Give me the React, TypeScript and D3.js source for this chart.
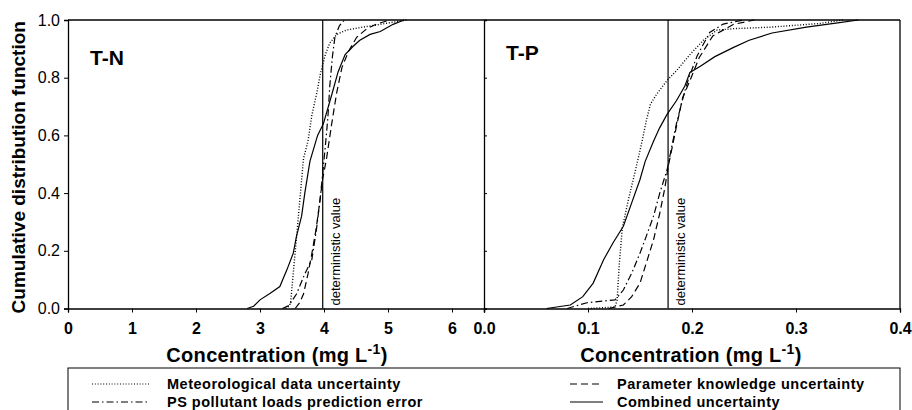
import React, { useEffect, useRef } from 'react';
import * as d3 from 'd3';

const width = 912,
height = 410;

const top = 20, bottom = 308.5, left = 68, mid = 484, right = 900;

const font = 'Arial, "Liberation Sans", Helvetica, sans-serif';

// T-N panel: [concentration, cumulative probability]
const tnMeteo = [[3.40,0],[3.46,0.01],[3.48,0.024],[3.58,0.27],[3.68,0.52],[3.75,0.58],[3.81,0.67],[3.89,0.75],[3.94,0.81],[4.02,0.88],[4.09,0.92],[4.20,0.95],[4.35,0.965],[4.60,0.975],[4.88,0.985],[5.15,0.995],[5.30,1.0]];
const tnLoads = [[3.35,0],[3.45,0.01],[3.57,0.05],[3.70,0.12],[3.81,0.17],[3.88,0.27],[3.94,0.38],[3.98,0.47],[4.02,0.56],[4.06,0.66],[4.09,0.77],[4.13,0.87],[4.17,0.94],[4.24,0.98],[4.32,1.0]];
const tnParam = [[3.55,0],[3.62,0.02],[3.68,0.05],[3.75,0.12],[3.81,0.19],[3.88,0.28],[3.94,0.38],[3.98,0.45],[4.04,0.52],[4.12,0.64],[4.20,0.75],[4.28,0.835],[4.38,0.89],[4.51,0.94],[4.67,0.97],[4.82,0.986],[5.03,1.0]];
const tnCombined = [[2.80,0],[2.90,0.008],[3.00,0.03],[3.16,0.053],[3.31,0.076],[3.42,0.134],[3.52,0.192],[3.57,0.25],[3.65,0.32],[3.70,0.40],[3.78,0.51],[3.90,0.60],[3.99,0.64],[4.12,0.74],[4.22,0.82],[4.33,0.88],[4.46,0.91],[4.56,0.93],[4.72,0.95],[4.88,0.96],[5.08,0.985],[5.25,1.0]];

// T-P panel
const tpMeteo = [[0.10,0],[0.126,0.005],[0.128,0.03],[0.130,0.15],[0.133,0.28],[0.139,0.38],[0.147,0.50],[0.152,0.58],[0.156,0.65],[0.160,0.708],[0.166,0.743],[0.176,0.79],[0.185,0.824],[0.198,0.88],[0.211,0.93],[0.224,0.965],[0.24,0.97],[0.275,0.975],[0.323,0.988],[0.345,1.0]];
const tpLoads = [[0.08,0],[0.099,0.02],[0.126,0.03],[0.134,0.064],[0.142,0.122],[0.150,0.192],[0.156,0.25],[0.163,0.32],[0.169,0.40],[0.176,0.48],[0.185,0.64],[0.192,0.74],[0.197,0.80],[0.205,0.876],[0.217,0.957],[0.23,0.986],[0.25,1.0]];
const tpParam = [[0.12,0],[0.134,0.012],[0.142,0.041],[0.150,0.088],[0.156,0.157],[0.163,0.238],[0.169,0.33],[0.174,0.42],[0.177,0.49],[0.185,0.63],[0.191,0.73],[0.198,0.79],[0.207,0.87],[0.22,0.945],[0.24,0.985],[0.26,1.0]];
const tpCombined = [[0.06,0],[0.083,0.012],[0.095,0.041],[0.105,0.088],[0.115,0.169],[0.124,0.227],[0.134,0.285],[0.142,0.366],[0.150,0.447],[0.155,0.51],[0.163,0.58],[0.169,0.627],[0.176,0.673],[0.185,0.72],[0.193,0.77],[0.198,0.818],[0.208,0.84],[0.222,0.873],[0.24,0.905],[0.255,0.93],[0.277,0.955],[0.31,0.975],[0.34,0.99],[0.36,1.0]];

const tnTicks = [0, 1, 2, 3, 4, 5, 6];
const tpTicks = [0, 0.1, 0.2, 0.3, 0.4];
const yTicks = [0, 0.2, 0.4, 0.6, 0.8, 1.0];
const tnDeterministic = 3.98;
const tpDeterministic = 0.177;

const legendNames = ['Meteorological data uncertainty', 'PS pollutant loads prediction error', 'Parameter knowledge uncertainty', 'Combined uncertainty'];
const dashes = ['1,1.8', '7,3,1.5,3', '7,4', null];

function drawChart(node) {
    const svg = d3.select(node);
    svg.selectAll('*').remove();

    const y = d3.scaleLinear().domain([0, 1]).range([bottom, top]);
    const xN = d3.scaleLinear().domain([0, 6.5]).range([left, mid]);
    const xP = d3.scaleLinear().domain([0, 0.4]).range([mid, right]);

    const panels = [
        { x: xN, ticks: tnTicks, fmt: d3.format('d'), series: [tnMeteo, tnLoads, tnParam, tnCombined], det: tnDeterministic, label: 'T-N', ly: 65, tx: 277 },
        { x: xP, ticks: tpTicks, fmt: d3.format('.1f'), series: [tpMeteo, tpLoads, tpParam, tpCombined], det: tpDeterministic, label: 'T-P', ly: 60, tx: 691 },
    ];

    panels.forEach((p) => {
        const g = svg.append('g');
        const line = d3.line().x(d => p.x(d[0])).y(d => y(d[1]));

        p.series.forEach((s, k) => {
            g.append('path')
                .attr('d', line(s))
                .attr('fill', 'none')
                .attr('stroke', '#000')
                .attr('stroke-width', k === 0 ? 1.4 : 1.2)
                .attr('stroke-dasharray', dashes[k]);
        });

        // deterministic value
        const dx = p.x(p.det);
        g.append('line')
            .attr('x1', dx).attr('x2', dx)
            .attr('y1', y(0)).attr('y2', y(1))
            .attr('stroke', '#000').attr('stroke-width', 1.2);
        g.append('text')
            .attr('transform', `translate(${dx + 17},${y(0) - 3}) rotate(-90)`)
            .attr('font-family', font)
            .attr('font-size', 13)
            .text('deterministic value');

        g.append('text')
            .attr('x', p.x.range()[0] + 22)
            .attr('y', p.ly)
            .attr('font-family', font)
            .attr('font-size', 21)
            .attr('font-weight', 'bold')
            .text(p.label);

        // x axis
        const xa = g.append('g').attr('transform', `translate(0,${bottom})`)
            .call(d3.axisBottom(p.x).tickValues(p.ticks).tickFormat(p.fmt).tickSize(4).tickPadding(10));
        xa.select('.domain').attr('stroke-width', 1.3);
        xa.selectAll('.tick text')
            .style('font-family', font)
            .style('font-size', '16px')
            .style('font-weight', '700');

        const title = g.append('text')
            .attr('x', p.tx)
            .attr('y', 362)
            .attr('text-anchor', 'middle')
            .attr('font-family', font)
            .attr('font-size', 20)
            .attr('font-weight', 'bold')
            .style('letter-spacing', '0.3px');
        title.append('tspan').text('Concentration (mg L');
        title.append('tspan').attr('dy', -8).attr('font-size', 14).text('-1');
        title.append('tspan').attr('dy', 8).text(')');
    });

    // y axes
    const ya = svg.append('g').attr('transform', `translate(${left},0)`)
        .call(d3.axisLeft(y).tickValues(yTicks).tickFormat(d3.format('.1f')).tickSize(4).tickPadding(4));
    ya.select('.domain').attr('stroke-width', 1.3);
    ya.selectAll('.tick text')
        .style('font-family', font)
        .style('font-size', '16px');

    const ym = svg.append('g').attr('transform', `translate(${mid},0)`)
        .call(d3.axisRight(y).tickValues(yTicks).tickFormat('').tickSize(3));
    ym.select('.domain').attr('stroke-width', 1.3);

    // frame top and right
    svg.append('line').attr('x1', left).attr('x2', right).attr('y1', top).attr('y2', top)
        .attr('stroke', '#000').attr('stroke-width', 1.3);
    svg.append('line').attr('x1', right).attr('x2', right).attr('y1', top).attr('y2', bottom)
        .attr('stroke', '#000').attr('stroke-width', 1.3);

    svg.append('text')
        .attr('transform', `translate(25,${(top + bottom) / 2 + 3}) rotate(-90)`)
        .attr('text-anchor', 'middle')
        .attr('font-family', font)
        .attr('font-size', 19)
        .attr('font-weight', 'bold')
        .text('Cumulative distribution function');

    // legend
    svg.append('rect')
        .attr('x', left).attr('y', 368)
        .attr('width', right - left).attr('height', 60)
        .attr('fill', 'none').attr('stroke', '#000').attr('stroke-width', 1);

    const pos = [[92, 384], [92, 402], [570, 384], [570, 402]];
    legendNames.forEach((name, k) => {
        const [lx, ly] = pos[k];
        const len = k < 2 ? 58 : 33;
        svg.append('line')
            .attr('x1', lx).attr('x2', lx + len)
            .attr('y1', ly).attr('y2', ly)
            .attr('stroke', '#000').attr('stroke-width', 1.2)
            .attr('stroke-dasharray', dashes[k]);
        svg.append('text')
            .attr('x', k < 2 ? 167 : 617)
            .attr('y', ly + 5)
            .attr('font-family', font)
            .attr('font-size', 14.5)
            .attr('font-weight', 'bold')
            .style('letter-spacing', '0.5px')
            .text(name);
    });
}

export default function App() {
    const ref = useRef(null);

    useEffect(() => {
        drawChart(ref.current);
    }, []);

    return (
        <svg ref={ref} width={width} height={height}
            style={{ position: 'absolute', left: 0, top: 0, background: '#fff' }} />
    );
}
